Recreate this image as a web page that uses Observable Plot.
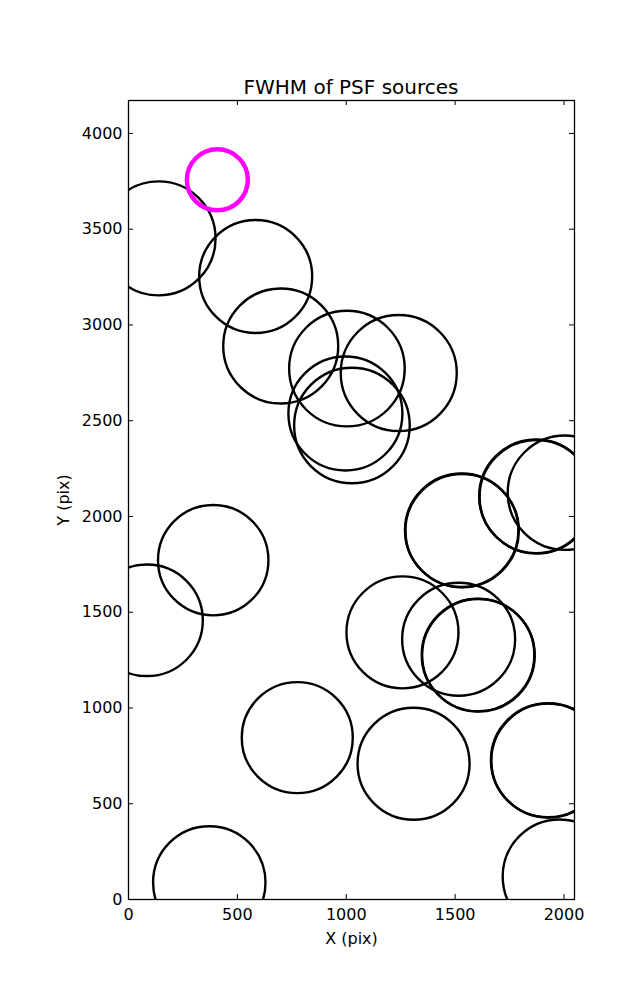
<!DOCTYPE html>
<html>
<head>
<meta charset="utf-8">
<script src="https://cdn.jsdelivr.net/npm/d3@7"></script>
<script src="https://cdn.jsdelivr.net/npm/@observablehq/plot@0.6"></script>
<style>
  body { margin: 0; background: #fff; font-family: "DejaVu Sans", sans-serif; }
  #title {
    margin-left: 128px; width: 446px; height: 95px; box-sizing: border-box;
    padding-top: 77px; text-align: center; font-size: 20px; line-height: 20px; color: #000;
  }
  #chart svg { display: block; }
</style>
</head>
<body>
<div id="title"></div>
<div id="chart"></div>
<script>
// ---- data ----
const title = "FWHM of PSF sources";
const xLabel = "X (pix)";
const yLabel = "Y (pix)";
const xTicks = [0, 500, 1000, 1500, 2000];
const yTicks = [0, 500, 1000, 1500, 2000, 2500, 3000, 3500, 4000];

// PSF sources (detector pixel coordinates) and their FWHM
const srcX    = [138, 584, 699, 1003, 1241, 996, 1026, 389, 85, 1530, 1532, 1871, 1873, 2004, 1258, 1516, 1605, 1607, 775, 1309, 1926, 1928, 371, 1980];
const srcY    = [3452, 3253, 2890, 2772, 2749, 2538, 2475, 1772, 1458, 1928, 1926, 2105, 2103, 2124, 1395, 1359, 1277, 1275, 845, 709, 727, 725, 89, 120];
const srcFwhm = [5.70, 5.65, 5.75, 5.78, 5.80, 5.70, 5.78, 5.52, 5.58, 5.67, 5.67, 5.68, 5.68, 5.72, 5.60, 5.65, 5.63, 5.63, 5.55, 5.60, 5.70, 5.70, 5.62, 5.70];

// highlighted reference source
const refX = [408];
const refY = [3758];
const refFwhm = [3.05];

// ---- build ----
document.getElementById("title").textContent = title;

const sources = srcX.map((x, i) => ({x, y: srcY[i], fwhm: srcFwhm[i]}));
const ref = refX.map((x, i) => ({x, y: refY[i], fwhm: refFwhm[i]}));

const W = 637, H = 905;
const mL = 128, mR = 63, mT = 5, mB = 101;
const innerW = W - mL - mR, innerH = H - mT - mB;
const fmt = d => `${d}`;

const chart = Plot.plot({
  width: W, height: H,
  marginLeft: mL, marginRight: mR, marginTop: mT, marginBottom: mB,
  style: {fontFamily: "DejaVu Sans", fontSize: "16px", color: "#000", background: "transparent"},
  x: {domain: [0, 2048], axis: null},
  y: {domain: [0, 4172], axis: null},
  r: {type: "linear", domain: [0, 10], range: [0, 100]},
  marks: [
    Plot.dot(sources, {x: "x", y: "y", r: "fwhm", stroke: "black", strokeWidth: 2.4, fill: "none", clip: true}),
    Plot.dot(ref, {x: "x", y: "y", r: "fwhm", stroke: "#ff00ff", strokeWidth: 4.5, fill: "none", clip: true}),
    // inward ticks on all four sides
    Plot.tickX(xTicks, {x: d => d, stroke: "black", insetTop: innerH - 5}),
    Plot.tickX(xTicks, {x: d => d, stroke: "black", insetBottom: innerH - 5}),
    Plot.tickY(yTicks, {y: d => d, stroke: "black", insetRight: innerW - 5}),
    Plot.tickY(yTicks, {y: d => d, stroke: "black", insetLeft: innerW - 5}),
    Plot.axisX({ticks: xTicks, tickSize: 0, tickPadding: 9, tickFormat: fmt, label: null, fontSize: 16}),
    Plot.axisY({ticks: yTicks, tickSize: 0, tickPadding: 6, tickFormat: fmt, label: null, fontSize: 16}),
    Plot.frame({stroke: "black", strokeWidth: 1.3}),
    Plot.text([xLabel], {text: d => d, frameAnchor: "bottom", dy: 39, fontSize: 16, textAnchor: "middle", lineAnchor: "middle"}),
    Plot.text([yLabel], {text: d => d, frameAnchor: "left", dx: -65, rotate: -90, fontSize: 16, textAnchor: "middle", lineAnchor: "middle"})
  ]
});
document.getElementById("chart").appendChild(chart);
</script>
</body>
</html>
